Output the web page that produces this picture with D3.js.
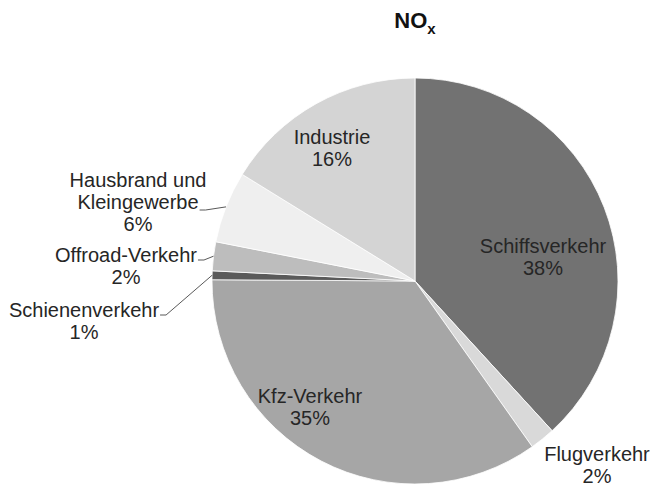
<!DOCTYPE html>
<html>
<head>
<meta charset="utf-8">
<script src="https://cdn.jsdelivr.net/npm/d3@7"></script>
<style>
  html, body { margin: 0; padding: 0; background: #fff; }
  svg { display: block; }
  text { font-family: "Liberation Sans", Arial, sans-serif; }
</style>
</head>
<body>
<svg id="chart" width="654" height="486"></svg>
<script>
// ---- data ----
const categories = ["Schiffsverkehr", "Flugverkehr", "Kfz-Verkehr", "Schienenverkehr", "Offroad-Verkehr", "Hausbrand und Kleingewerbe", "Industrie"];
const values = [38.2, 2.0, 34.9, 0.7, 2.3, 5.7, 16.2];
const labelLines = [["Schiffsverkehr"], ["Flugverkehr"], ["Kfz-Verkehr"], ["Schienenverkehr"], ["Offroad-Verkehr"], ["Hausbrand und", "Kleingewerbe"], ["Industrie"]];
const colors = ["#727272", "#d9d9d9", "#a6a6a6", "#5a5a5a", "#bdbdbd", "#efefef", "#d4d4d4"];

// ---- layout ----
const W = 654, H = 486;
const cx = 415, cy = 281, R = 203;
// label anchor (centre of text, first baseline) relative to pie centre; leader line row index
const labelLayout = [
  { dx: 128, dy: -28 },
  { dx: 182, dy: 180 },
  { dx: -105, dy: 122 },
  { dx: -331, dy: 36, lineRow: 0, lineDy: -2 },
  { dx: -289, dy: -19, lineRow: 0, lineDy: -2 },
  { dx: -277, dy: -94, lineRow: 1, lineDy: 1 },
  { dx: -83, dy: -137 }
];

const svg = d3.select("#chart");

// title
const title = svg.append("text")
  .attr("x", cx).attr("y", 28)
  .attr("text-anchor", "middle")
  .attr("font-weight", "bold")
  .attr("font-size", 22)
  .attr("fill", "#111");
title.append("tspan").text("NO");
title.append("tspan").attr("font-size", 15).attr("dy", 6).text("x");

const pie = d3.pie().sort(null).value(d => d).startAngle(0).endAngle(2 * Math.PI);
const arcs = pie(values);
const arc = d3.arc().innerRadius(0).outerRadius(R);

const g = svg.append("g").attr("transform", `translate(${cx},${cy})`);

g.selectAll("path.slice")
  .data(arcs)
  .enter().append("path")
  .attr("class", "slice")
  .attr("d", arc)
  .attr("fill", (d, i) => colors[i])
  .attr("stroke", "#fff")
  .attr("stroke-width", 0.8);

const fs = 20, lh = 22;
const total = d3.sum(values);

arcs.forEach((d, i) => {
  const L = labelLayout[i];
  const lines = labelLines[i].concat([Math.round(d.value / total * 100) + "%"]);
  const t = g.append("text")
    .attr("text-anchor", "middle")
    .attr("font-size", fs)
    .attr("fill", "#262626");
  const spans = lines.map((s, k) =>
    t.append("tspan").attr("x", L.dx).attr("y", L.dy + k * lh).text(s));
  if (L.lineRow !== undefined) {
    const w = spans[L.lineRow].node().getComputedTextLength();
    const lx = L.dx + w / 2 + 1;
    const ly = L.dy + L.lineRow * lh + L.lineDy;
    const mid = (d.startAngle + d.endAngle) / 2;
    const ex = R * Math.sin(mid), ey = -R * Math.cos(mid);
    const pts = [[lx, ly], [lx + 6, ly], [ex, ey]];
    g.append("path")
      .attr("d", d3.line()(pts))
      .attr("fill", "none")
      .attr("stroke", "#595959")
      .attr("stroke-width", 1);
  }
});
</script>
</body>
</html>
